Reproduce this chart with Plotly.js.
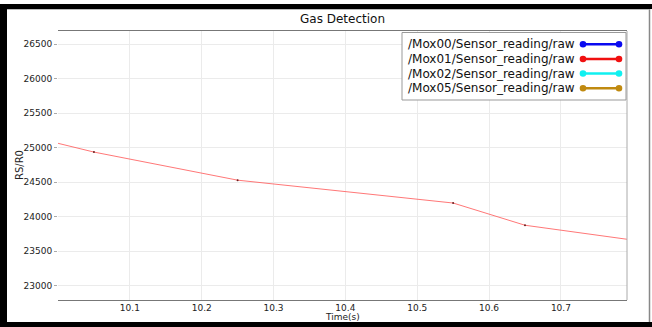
<!DOCTYPE html>
<html>
<head>
<meta charset="utf-8">
<script src="https://cdn.plot.ly/plotly-3.0.1.min.js"></script>
<style>
  html, body { margin: 0; padding: 0; background: #fff; }
  #chart { width: 652px; height: 327px; }
</style>
</head>
<body>
<div id="chart"></div>
<script>
// ---- data ----
const seriesNames = [
  "/Mox00/Sensor_reading/raw",
  "/Mox01/Sensor_reading/raw",
  "/Mox02/Sensor_reading/raw",
  "/Mox05/Sensor_reading/raw"
];
const seriesColors = ["#0a0af0", "#f01010", "#10f0f0", "#c08a10"];
const mox00Time = [];
const mox00Vals = [];
const mox01Time = [9.95, 10.05, 10.25, 10.55, 10.65, 10.85];
const mox01Vals = [25190, 24936, 24529, 24198, 23876, 23590];
const mox02Time = [];
const mox02Vals = [];
const mox05Time = [];
const mox05Vals = [];
const yTicks = [23000, 23500, 24000, 24500, 25000, 25500, 26000, 26500];
const xTicks = [10.1, 10.2, 10.3, 10.4, 10.5, 10.6, 10.7];

// ---- layout geometry (pixels) ----
const W = 652, H = 327;
const L = 58, R = 627, T = 31, B = 300;
const px = x => (x - L) / (R - L);
const py = y => (B - y) / (B - T);

const FONT = "DejaVu Sans, Liberation Sans, sans-serif";

const allTimes = [mox00Time, mox01Time, mox02Time, mox05Time];
const allVals = [mox00Vals, mox01Vals, mox02Vals, mox05Vals];

const traces = seriesNames.map((name, i) => ({
  type: "scatter",
  mode: "lines+markers",
  name: name,
  x: allTimes[i],
  y: allVals[i],
  showlegend: false,
  line: { color: i === 1 ? "rgba(255,95,95,0.85)" : seriesColors[i], width: 1 },
  marker: { size: 2, color: "#6a2020" },
  hoverinfo: "x+y"
}));

// ---- custom legend (text left, symbol right) ----
const shapes = [];
const annotations = [];

// outer frame of the screenshot
shapes.push({ type: "rect", xref: "paper", yref: "paper", x0: px(0), x1: px(7), y0: py(327), y1: py(4), fillcolor: "#000", line: { width: 0 }, layer: "above" });
shapes.push({ type: "rect", xref: "paper", yref: "paper", x0: px(0), x1: px(652), y0: py(9), y1: py(4), fillcolor: "#000", line: { width: 0 }, layer: "above" });
shapes.push({ type: "rect", xref: "paper", yref: "paper", x0: px(0), x1: px(652), y0: py(327), y1: py(322), fillcolor: "#000", line: { width: 0 }, layer: "above" });
shapes.push({ type: "line", xref: "paper", yref: "paper", x0: px(649.5), x1: px(649.5), y0: py(322), y1: py(9), line: { color: "#888", width: 1.5 }, layer: "above" });
shapes.push({ type: "line", xref: "paper", yref: "paper", x0: px(7), x1: px(649.5), y0: py(9.5), y1: py(9.5), line: { color: "#bbb", width: 1 }, layer: "above" });

// plot frame: right border
shapes.push({ type: "line", xref: "paper", yref: "paper", x0: 1, x1: 1, y0: 0, y1: 1, line: { color: "#aaa", width: 1 } });

// legend box
shapes.push({ type: "rect", xref: "paper", yref: "paper", x0: px(402), x1: px(626), y0: py(100), y1: py(32.5), fillcolor: "#fff", line: { color: "#999", width: 1 }, layer: "above" });

const rowY = [44.3, 59, 73.5, 88.3];
seriesNames.forEach((name, i) => {
  const yy = py(rowY[i]);
  annotations.push({
    xref: "paper", yref: "paper", x: px(577), y: yy, xanchor: "right", yanchor: "middle",
    text: name, showarrow: false, font: { family: FONT, size: 12, color: "#111" }
  });
  shapes.push({ type: "line", xref: "paper", yref: "paper", x0: px(583), x1: px(619), y0: yy, y1: yy, line: { color: seriesColors[i], width: 2.5 }, layer: "above" });
  [583, 619].forEach(cx => {
    shapes.push({
      type: "circle", xref: "paper", yref: "paper", xsizemode: "pixel", ysizemode: "pixel",
      xanchor: px(cx), yanchor: yy, x0: -3.3, x1: 3.3, y0: -3.3, y1: 3.3,
      fillcolor: seriesColors[i], line: { color: seriesColors[i], width: 0 }, layer: "above"
    });
  });
});

// axis titles placed precisely
annotations.push({
  xref: "paper", yref: "paper", x: 0.5, y: py(317), xanchor: "center", yanchor: "middle",
  text: "Time(s)", showarrow: false, font: { family: FONT, size: 9, color: "#222" },
  borderpad: 0
});
annotations.push({
  xref: "paper", yref: "paper", x: px(19.5), y: 0.5, xanchor: "center", yanchor: "middle",
  text: "RS/R0", textangle: -90, showarrow: false, font: { family: FONT, size: 10, color: "#222" }
});

const layout = {
  width: W, height: H,
  margin: { l: L, r: W - R, t: T, b: H - B, pad: 0 },
  paper_bgcolor: "#fff",
  plot_bgcolor: "#fff",
  showlegend: false,
  font: { family: FONT, size: 9, color: "#222" },
  title: {
    text: "Gas Detection",
    font: { family: FONT, size: 12, color: "#111" },
    xref: "paper", x: 0.5, xanchor: "center",
    yref: "container", y: 1 - 18.3 / H, yanchor: "middle"
  },
  xaxis: {
    range: [10.0, 10.792],
    tickvals: xTicks,
    ticktext: xTicks.map(v => v.toFixed(1)),
    showgrid: true, gridcolor: "#ebebeb", gridwidth: 1,
    zeroline: false,
    showline: true, mirror: true, linecolor: "#777", linewidth: 1,
    ticks: "",
    ticklabelstandoff: -1,
    tickfont: { family: FONT, size: 9, color: "#222" },
    automargin: false
  },
  yaxis: {
    range: [22793, 26690],
    tickvals: yTicks,
    ticktext: yTicks.map(String),
    showgrid: true, gridcolor: "#ebebeb", gridwidth: 1,
    zeroline: false,
    showline: false,
    ticks: "outside", ticklen: 3, tickcolor: "#aaa",
    tickfont: { family: FONT, size: 9, color: "#222" },
    automargin: false
  },
  shapes: shapes,
  annotations: annotations
};

Plotly.newPlot("chart", traces, layout, { displayModeBar: false, staticPlot: true });
</script>
</body>
</html>
